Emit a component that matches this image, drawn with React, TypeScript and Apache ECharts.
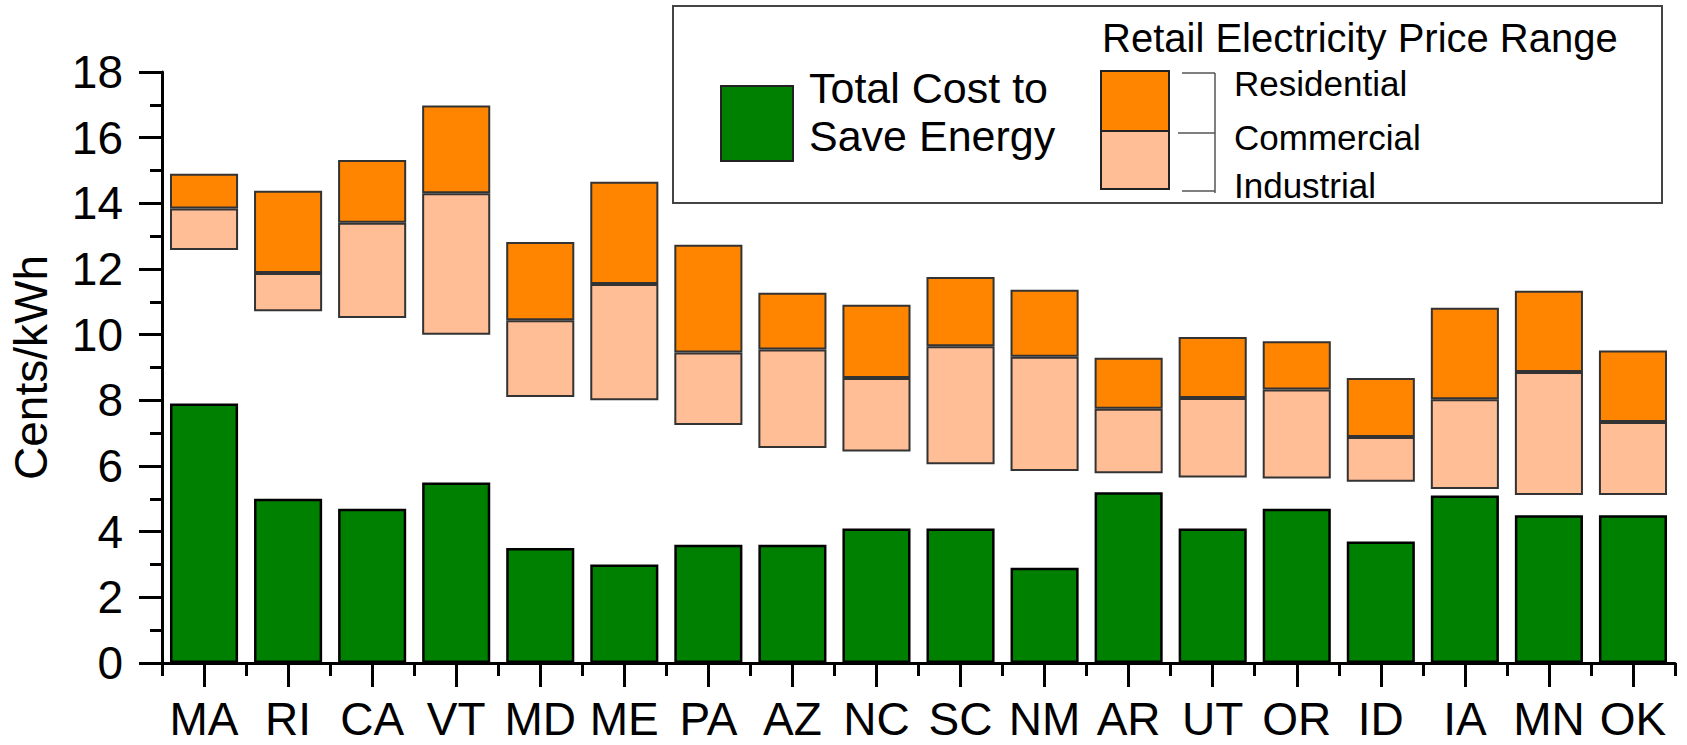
import React, { useEffect, useRef } from "react";
import * as echarts from "echarts";

const states = ["MA", "RI", "CA", "VT", "MD", "ME", "PA", "AZ", "NC", "SC", "NM", "AR", "UT", "OR", "ID", "IA", "MN", "OK"];
const costToSave = [7.9, 5.0, 4.7, 5.5, 3.5, 3.0, 3.6, 3.6, 4.1, 4.1, 2.9, 5.2, 4.1, 4.7, 3.7, 5.1, 4.5, 4.5];
const industrial = [12.58, 10.71, 10.51, 10.0, 8.1, 8.0, 7.25, 6.55, 6.44, 6.05, 5.85, 5.78, 5.65, 5.62, 5.52, 5.3, 5.12, 5.12];
const commercial = [13.84, 11.88, 13.41, 14.31, 10.44, 11.54, 9.46, 9.55, 8.68, 9.65, 9.33, 7.74, 8.07, 8.33, 6.88, 8.03, 8.86, 7.34];
const residential = [14.9, 14.38, 15.32, 16.98, 12.82, 14.66, 12.74, 11.28, 10.91, 11.76, 11.37, 9.3, 9.93, 9.8, 8.68, 10.82, 11.34, 9.52];
const yTicks = { min: 0, max: 18, interval: 2 };

const FONT = "'Liberation Sans', Arial, sans-serif";
const GREEN = "#008000";
const ORANGE = "#FF8400";
const LIGHT = "#FFBE96";

export default function App() {
  const ref = useRef<HTMLDivElement>(null);
  useEffect(() => {
    if (!ref.current) return;
    const chart = echarts.init(ref.current, null, { renderer: "svg" });
    const lightSeg = commercial.map((c, i) => +(c - industrial[i]).toFixed(2));
    const orangeSeg = residential.map((r, i) => +(r - commercial[i]).toFixed(2));
    const lineCol = "#555";
    chart.setOption({
      animation: false,
      grid: { left: 162, right: 12, top: 72, bottom: 82, containLabel: false },
      xAxis: [
        {
          type: "category",
          data: states,
          axisLine: { lineStyle: { color: "#000", width: 3 } },
          axisTick: { show: true, alignWithLabel: false, length: 13, lineStyle: { color: "#000", width: 3 } },
          axisLabel: { color: "#000", fontSize: 46, lineHeight: 38, fontFamily: FONT, margin: 37, interval: 0 },
        },
        {
          type: "category",
          data: states,
          position: "bottom",
          axisLine: { show: false },
          axisTick: { show: true, alignWithLabel: true, length: 24, lineStyle: { color: "#000", width: 3 } },
          axisLabel: { show: false },
        },
      ],
      yAxis: {
        type: "value",
        min: yTicks.min,
        max: yTicks.max,
        interval: yTicks.interval,
        name: "Cents/kWh",
        nameLocation: "middle",
        nameRotate: 90,
        nameGap: 108,
        nameTextStyle: { color: "#000", fontSize: 46, fontFamily: FONT },
        axisLine: { show: true, lineStyle: { color: "#000", width: 3 } },
        axisTick: { show: true, length: 23, lineStyle: { color: "#000", width: 3 } },
        minorTick: { show: true, splitNumber: 2, length: 12, lineStyle: { color: "#000", width: 3 } },
        splitLine: { show: false },
        axisLabel: { color: "#000", fontSize: 46, fontFamily: FONT, margin: 39 },
      },
      series: [
        {
          name: "Total Cost to Save Energy",
          type: "bar",
          data: costToSave,
          barWidth: "81%",
          barGap: "-100%",
          itemStyle: { color: GREEN, borderColor: "#000", borderWidth: 2.5 },
        },
        {
          name: "base",
          type: "bar",
          stack: "range",
          data: industrial,
          barWidth: "81%",
          barGap: "-100%",
          itemStyle: { color: "rgba(0,0,0,0)", borderWidth: 0 },
          silent: true,
        },
        {
          name: "Industrial–Commercial",
          type: "bar",
          stack: "range",
          data: lightSeg,
          barWidth: "81%",
          barGap: "-100%",
          itemStyle: { color: LIGHT, borderColor: "#333", borderWidth: 2 },
        },
        {
          name: "Commercial–Residential",
          type: "bar",
          stack: "range",
          data: orangeSeg,
          barWidth: "81%",
          barGap: "-100%",
          itemStyle: { color: ORANGE, borderColor: "#333", borderWidth: 2 },
        },
      ],
      graphic: [
        { type: "rect", shape: { x: 673, y: 6, width: 989, height: 197 }, style: { fill: "#fff", stroke: "#444", lineWidth: 2 } },
        { type: "rect", shape: { x: 721, y: 86, width: 72, height: 75 }, style: { fill: GREEN, stroke: "#222", lineWidth: 2 } },
        { type: "text", x: 809, y: 88, style: { text: "Total Cost to", fill: "#000", fontSize: 43, fontFamily: FONT, verticalAlign: "middle", align: "left" } },
        { type: "text", x: 809, y: 136, style: { text: "Save Energy", fill: "#000", fontSize: 43, fontFamily: FONT, verticalAlign: "middle", align: "left" } },
        { type: "text", x: 1102, y: 38, style: { text: "Retail Electricity Price Range", fill: "#000", fontSize: 40, fontFamily: FONT, verticalAlign: "middle", align: "left" } },
        { type: "rect", shape: { x: 1101, y: 71, width: 68, height: 60 }, style: { fill: ORANGE, stroke: "#222", lineWidth: 2 } },
        { type: "rect", shape: { x: 1101, y: 131, width: 68, height: 58 }, style: { fill: LIGHT, stroke: "#222", lineWidth: 2 } },
        { type: "line", shape: { x1: 1182, y1: 73, x2: 1215, y2: 73 }, style: { stroke: lineCol, lineWidth: 1.5 } },
        { type: "line", shape: { x1: 1178, y1: 133, x2: 1215, y2: 133 }, style: { stroke: lineCol, lineWidth: 1.5 } },
        { type: "line", shape: { x1: 1182, y1: 191, x2: 1215, y2: 191 }, style: { stroke: lineCol, lineWidth: 1.5 } },
        { type: "line", shape: { x1: 1215, y1: 73, x2: 1215, y2: 193 }, style: { stroke: lineCol, lineWidth: 1.5 } },
        { type: "text", x: 1234, y: 83, style: { text: "Residential", fill: "#000", fontSize: 35, fontFamily: FONT, verticalAlign: "middle", align: "left" } },
        { type: "text", x: 1234, y: 137, style: { text: "Commercial", fill: "#000", fontSize: 35, fontFamily: FONT, verticalAlign: "middle", align: "left" } },
        { type: "text", x: 1234, y: 185, style: { text: "Industrial", fill: "#000", fontSize: 35, fontFamily: FONT, verticalAlign: "middle", align: "left" } },
      ],
    });
    return () => chart.dispose();
  }, []);
  return <div ref={ref} style={{ position: "fixed", left: 0, top: 0, width: 1687, height: 745, background: "#fff" }} />;
}
